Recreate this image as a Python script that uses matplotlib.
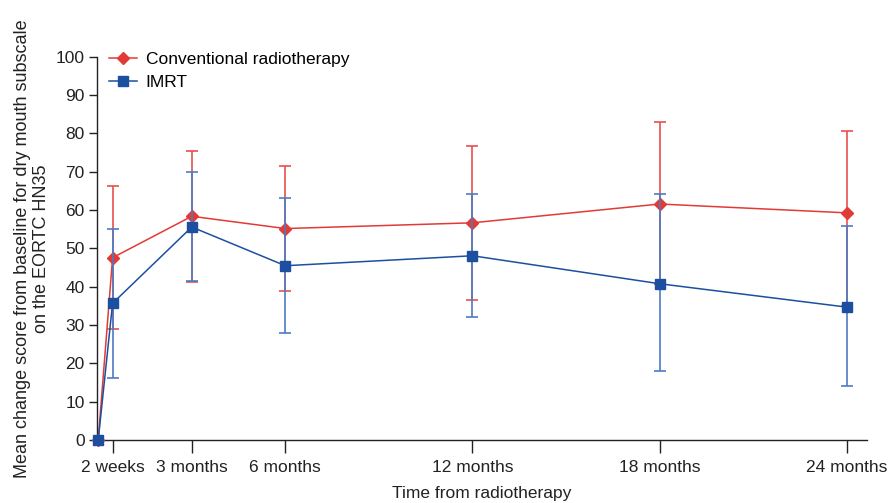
import matplotlib
matplotlib.use("Agg")
import matplotlib.pyplot as plt

# Time points in weeks after radiotherapy, with their axis labels
weeks = [0, 2, 13, 26, 52, 78, 104]
tick_weeks = [2, 13, 26, 52, 78, 104]
tick_labels = ["2 weeks", "3 months", "6 months", "12 months", "18 months", "24 months"]

# Mean change score per arm, with the lower and upper ends of each error bar
conv_mean = [0, 47.6, 58.4, 55.2, 56.7, 61.6, 59.3]
conv_low = [0, 29.0, 41.3, 38.8, 36.6, 40.8, 35.0]
conv_high = [0, 66.2, 75.5, 71.6, 76.8, 83.0, 80.7]
imrt_mean = [0, 35.7, 55.6, 45.5, 48.1, 40.8, 34.7]
imrt_low = [0, 16.3, 41.6, 27.9, 32.0, 18.0, 14.1]
imrt_high = [0, 55.1, 69.9, 63.1, 64.2, 64.2, 55.9]

plt.rcParams["font.family"] = ["Liberation Sans", "DejaVu Sans"]

fig = plt.figure(figsize=(8.91, 5.03), dpi=100)
ax = fig.add_axes([0.109, 0.125, 0.864, 0.762])

red = "#e23a34"
red_err = "#e8504a"
blue = "#1c4fa0"
blue_err = "#4d7cc4"


def err(mean, low, high):
    return [[m - lo for m, lo in zip(mean, low)], [hi - m for m, hi in zip(mean, high)]]


c1 = ax.errorbar(weeks, conv_mean, yerr=err(conv_mean, conv_low, conv_high),
                 color=red, ecolor=red_err, marker="D", markersize=5.8,
                 linewidth=1.1, elinewidth=1.2, capsize=4, capthick=1.2, zorder=3)
c2 = ax.errorbar(weeks, imrt_mean, yerr=err(imrt_mean, imrt_low, imrt_high),
                 color=blue, ecolor=blue_err, marker="s", markersize=6.5,
                 linewidth=1.1, elinewidth=1.2, capsize=4, capthick=1.2, zorder=4)
c1[0].set_clip_on(False)
c2[0].set_clip_on(False)

ax.set_xlim(-0.15, 106.8)
ax.set_ylim(0, 100)
ax.set_yticks(range(0, 101, 10))
ax.set_xticks(tick_weeks)
ax.set_xticklabels(tick_labels)

for side in ("top", "right"):
    ax.spines[side].set_visible(False)
for side in ("left", "bottom"):
    ax.spines[side].set_linewidth(1.0)
    ax.spines[side].set_color("#222222")

ax.tick_params(axis="y", direction="out", length=6, width=1.0,
               labelsize=12.5, colors="#222222", pad=3)
ax.tick_params(axis="x", direction="out", length=9, width=1.0,
               labelsize=12.5, colors="#222222", pad=5)

ax.set_xlabel("Time from radiotherapy", fontsize=12.5, color="#222222", labelpad=8)
ax.set_ylabel("Mean change score from baseline for dry mouth subscale\non the EORTC HN35",
              fontsize=13, color="#222222", labelpad=4, linespacing=1.15)

ax.legend([c1[0], c2[0]], ["Conventional radiotherapy", "IMRT"],
          loc="upper left", bbox_to_anchor=(0.0, 1.045), frameon=False,
          fontsize=12.5, handlelength=1.6, handletextpad=0.5,
          labelspacing=0.45, borderaxespad=0.3)

fig.savefig("out.png", dpi=100, facecolor="white")
